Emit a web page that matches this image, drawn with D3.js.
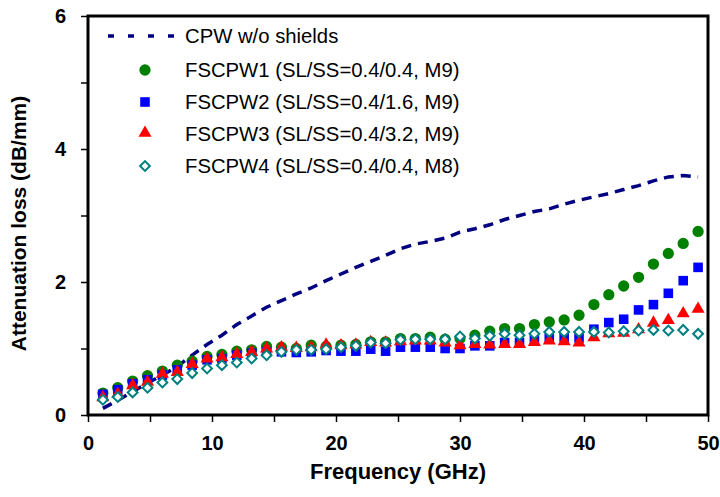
<!DOCTYPE html>
<html>
<head>
<meta charset="utf-8">
<script src="https://cdn.jsdelivr.net/npm/d3@7"></script>
<style>
  html, body { margin: 0; padding: 0; background: #fff; }
  svg { display: block; font-family: "Liberation Sans", Arial, sans-serif; }
</style>
</head>
<body>
<svg id="chart" width="720" height="497"></svg>
<script>
// Frequency sweep points (GHz)
const freq = [1.2, 2.4, 3.6, 4.8, 6.0, 7.2, 8.4, 9.6, 10.8, 12.0,
  13.2, 14.4, 15.6, 16.8, 18.0, 19.2, 20.4, 21.6, 22.8, 24.0,
  25.2, 26.4, 27.6, 28.8, 30.0, 31.2, 32.4, 33.6, 34.8, 36.0,
  37.2, 38.4, 39.6, 40.8, 42.0, 43.2, 44.4, 45.6, 46.8, 48.0, 49.2];

// Attenuation loss (dB/mm)
const cpw = [0.10, 0.22, 0.35, 0.48, 0.60, 0.73, 0.90, 1.06, 1.20, 1.36,
  1.49, 1.62, 1.72, 1.82, 1.91, 2.02, 2.12, 2.22, 2.31, 2.40,
  2.50, 2.57, 2.61, 2.66, 2.75, 2.80, 2.86, 2.94, 3.00, 3.06,
  3.10, 3.17, 3.23, 3.28, 3.33, 3.39, 3.45, 3.52, 3.58, 3.60, 3.58];
const fscpw1 = [0.33, 0.41, 0.51, 0.59, 0.66, 0.75, 0.81, 0.88, 0.91, 0.96,
  0.98, 1.03, 1.02, 1.00, 1.05, 1.03, 1.05, 1.06, 1.10, 1.10,
  1.15, 1.15, 1.17, 1.14, 1.15, 1.20, 1.26, 1.30, 1.30, 1.36,
  1.40, 1.43, 1.50, 1.66, 1.81, 1.94, 2.07, 2.27, 2.43, 2.58, 2.76];
const fscpw2 = [0.31, 0.38, 0.47, 0.53, 0.60, 0.68, 0.75, 0.83, 0.85, 0.90,
  0.93, 0.95, 0.95, 0.94, 0.95, 0.97, 0.96, 0.96, 0.99, 0.96,
  1.02, 1.02, 1.02, 1.00, 1.00, 1.04, 1.04, 1.09, 1.09, 1.13,
  1.16, 1.17, 1.16, 1.29, 1.39, 1.44, 1.58, 1.66, 1.83, 2.02, 2.22];
const fscpw3 = [0.25, 0.30, 0.43, 0.48, 0.60, 0.63, 0.75, 0.83, 0.85, 0.90,
  0.93, 0.98, 1.00, 0.99, 1.00, 1.04, 1.03, 1.04, 1.08, 1.07,
  1.09, 1.10, 1.10, 1.07, 1.03, 1.05, 1.04, 1.05, 1.05, 1.08,
  1.10, 1.09, 1.07, 1.15, 1.21, 1.22, 1.27, 1.37, 1.41, 1.51, 1.58];
const fscpw4 = [0.23, 0.27, 0.34, 0.41, 0.49, 0.54, 0.63, 0.70, 0.75, 0.79,
  0.85, 0.90, 0.95, 0.98, 0.98, 0.99, 1.02, 1.04, 1.09, 1.08,
  1.13, 1.14, 1.14, 1.14, 1.18, 1.15, 1.19, 1.22, 1.20, 1.22,
  1.25, 1.25, 1.25, 1.25, 1.24, 1.26, 1.27, 1.28, 1.27, 1.28, 1.22];

const legendLabels = [
  "CPW w/o shields",
  "FSCPW1 (SL/SS=0.4/0.4, M9)",
  "FSCPW2 (SL/SS=0.4/1.6, M9)",
  "FSCPW3 (SL/SS=0.4/3.2, M9)",
  "FSCPW4 (SL/SS=0.4/0.4, M8)"
];
const xTicks = [0, 5, 10, 15, 20, 25, 30, 35, 40, 45, 50];
const yTicks = [0, 1, 2, 3, 4, 5, 6];

const svg = d3.select("#chart");
const plotL = 88, plotR = 708, plotT = 16, plotB = 415;

const x = d3.scaleLinear().domain([0, 50]).range([plotL, plotR]);
const y = d3.scaleLinear().domain([0, 6]).range([plotB, plotT]);

// Axes with major/minor ticks
const xAxis = svg.append("g")
  .attr("transform", `translate(0,${plotB})`)
  .call(d3.axisBottom(x).tickValues(xTicks)
    .tickFormat(d => d % 10 === 0 ? d : "").tickSize(7).tickPadding(10));
const yAxis = svg.append("g")
  .attr("transform", `translate(${plotL},0)`)
  .call(d3.axisLeft(y).tickValues(yTicks)
    .tickFormat(d => d % 2 === 0 ? d : "").tickSize(7).tickPadding(15));

[xAxis, yAxis].forEach(g => {
  g.select(".domain").remove();
  g.selectAll(".tick line").attr("stroke", "#000").attr("stroke-width", 1.5);
  g.selectAll(".tick text")
    .attr("fill", "#000")
    .style("font-size", "20px")
    .style("font-weight", "bold");
});
xAxis.selectAll(".tick text").attr("dy", "0.9em");

// Plot frame
svg.append("rect")
  .attr("x", plotL).attr("y", plotT)
  .attr("width", plotR - plotL).attr("height", plotB - plotT)
  .attr("fill", "none").attr("stroke", "#000").attr("stroke-width", 3);

const rows = freq.map((f, i) => ({ f, c: cpw[i], s1: fscpw1[i], s2: fscpw2[i], s3: fscpw3[i], s4: fscpw4[i] }));

// Reference CPW line (dashed), beneath the shielded-line markers
svg.append("path")
  .datum(rows)
  .attr("d", d3.line().x(d => x(d.f)).y(d => y(d.c)))
  .attr("fill", "none")
  .attr("stroke", "#000080")
  .attr("stroke-width", 3.5)
  .attr("stroke-dasharray", "10,7");

// Marker symbols
const circleSym = d3.symbol().type(d3.symbolCircle).size(100);
const squareSym = d3.symbol().type(d3.symbolSquare).size(92);
const triSym = d3.symbol().type(d3.symbolTriangle).size(74);
const diaSym = d3.symbol().type(d3.symbolSquare).size(48);

const marks = svg.append("g");
marks.selectAll(".s1").data(rows).join("path")
  .attr("d", circleSym)
  .attr("transform", d => `translate(${x(d.f)},${y(d.s1)})`)
  .attr("fill", "#008000");
marks.selectAll(".s2").data(rows).join("path")
  .attr("d", squareSym)
  .attr("transform", d => `translate(${x(d.f)},${y(d.s2)})`)
  .attr("fill", "#0000ff");
marks.selectAll(".s3").data(rows).join("path")
  .attr("d", triSym)
  .attr("transform", d => `translate(${x(d.f)},${y(d.s3) - 1})`)
  .attr("fill", "#ff0000");
marks.selectAll(".s4").data(rows).join("path")
  .attr("d", diaSym)
  .attr("transform", d => `translate(${x(d.f)},${y(d.s4)}) rotate(45)`)
  .attr("fill", "#fff").attr("stroke", "#008080").attr("stroke-width", 2);

// Legend
const lg = svg.append("g");
const rowY = [36, 70, 102, 134, 166];
const textX = 185, markX = 145;
lg.append("line")
  .attr("x1", 108).attr("x2", 180).attr("y1", rowY[0]).attr("y2", rowY[0])
  .attr("stroke", "#000080").attr("stroke-width", 3.5)
  .attr("stroke-dasharray", "6,14");
lg.append("path").attr("d", circleSym).attr("transform", `translate(${markX},${rowY[1]})`).attr("fill", "#008000");
lg.append("path").attr("d", squareSym).attr("transform", `translate(${markX},${rowY[2]})`).attr("fill", "#0000ff");
lg.append("path").attr("d", triSym).attr("transform", `translate(${markX},${rowY[3] - 1})`).attr("fill", "#ff0000");
lg.append("path").attr("d", diaSym).attr("transform", `translate(${markX},${rowY[4]}) rotate(45)`)
  .attr("fill", "#fff").attr("stroke", "#008080").attr("stroke-width", 2);
lg.selectAll("text.lbl").data(legendLabels).join("text")
  .attr("x", textX).attr("y", (d, i) => rowY[i])
  .attr("dy", "0.35em")
  .style("font-size", "20.3px")
  .attr("fill", "#000")
  .text(d => d);

// Axis titles
svg.append("text")
  .attr("x", (plotL + plotR) / 2).attr("y", 471).attr("dy", "0.35em")
  .attr("text-anchor", "middle")
  .style("font-size", "22px").style("font-weight", "bold")
  .text("Frequency (GHz)");
svg.append("text")
  .attr("transform", `translate(19,${(plotT + plotB) / 2 + 8}) rotate(-90)`)
  .attr("dy", "0.35em")
  .attr("text-anchor", "middle")
  .style("font-size", "21px").style("font-weight", "bold")
  .text("Attenuation loss (dB/mm)");
</script>
</body>
</html>
